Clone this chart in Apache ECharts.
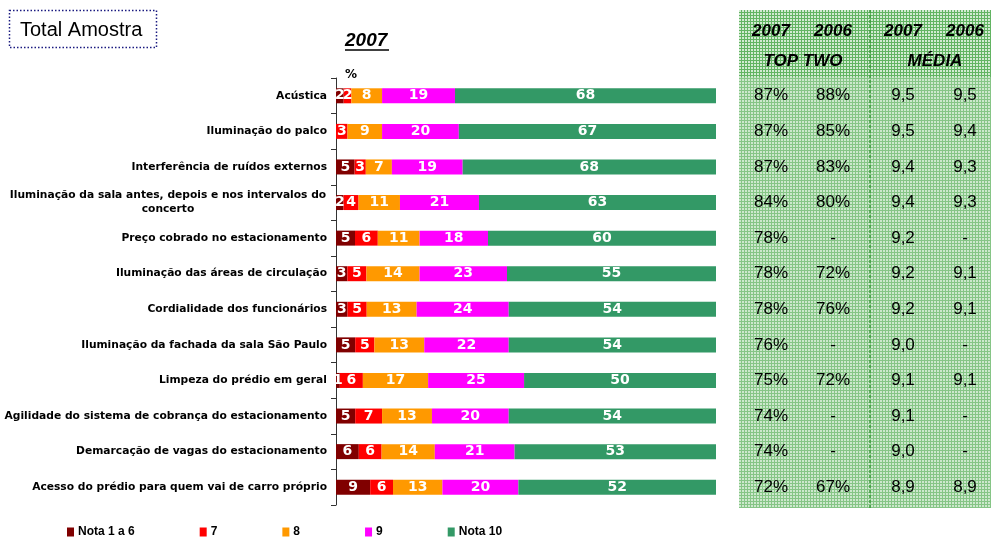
<!DOCTYPE html>
<html>
<head>
<meta charset="utf-8">
<script src="https://cdn.jsdelivr.net/npm/echarts@6/dist/echarts.min.js"></script>
<style>
  html, body { margin: 0; padding: 0; background: #fff; }
  #main { width: 991px; height: 537px; }
</style>
</head>
<body>
<div id="main"></div>
<script>
// itens avaliados (de cima para baixo)
var categories = [
  'Acústica',
  'Iluminação do palco',
  'Interferência de ruídos externos',
  'Iluminação da sala antes, depois e nos intervalos do\nconcerto',
  'Preço cobrado no estacionamento',
  'Iluminação das áreas de circulação',
  'Cordialidade dos funcionários',
  'Iluminação da fachada da sala São Paulo',
  'Limpeza do prédio em geral',
  'Agilidade do sistema de cobrança do estacionamento',
  'Demarcação de vagas do estacionamento',
  'Acesso do prédio para quem vai de carro próprio'
];
var seriesNames = ['Nota 1 a 6', '7', '8', '9', 'Nota 10'];
var nota1a6 = [2, 0, 5, 2, 5, 3, 3, 5, 1, 5, 6, 9];
var nota7   = [2, 3, 3, 4, 6, 5, 5, 5, 6, 7, 6, 6];
var nota8   = [8, 9, 7, 11, 11, 14, 13, 13, 17, 13, 14, 13];
var nota9   = [19, 20, 19, 21, 18, 23, 24, 22, 25, 20, 21, 20];
var nota10  = [68, 67, 68, 63, 60, 55, 54, 54, 50, 54, 53, 52];

// tabela da direita
var topTwo2007 = [87, 87, 87, 84, 78, 78, 78, 76, 75, 74, 74, 72];
var topTwo2006 = [88, 85, 83, 80, null, 72, 76, null, 72, null, null, 67];
var media2007 = [9.5, 9.5, 9.4, 9.4, 9.2, 9.2, 9.2, 9.0, 9.1, 9.1, 9.0, 8.9];
var media2006 = [9.5, 9.4, 9.3, 9.3, null, 9.1, 9.1, null, 9.1, null, null, 8.9];

var colors = ['#800000', '#ff0000', '#ff9900', '#ff00ff', '#339966'];
var allSeries = [nota1a6, nota7, nota8, nota9, nota10];

// barras 100% empilhadas: largura normalizada pelo total da linha
var totals = categories.map(function (c, i) {
  var s = 0;
  for (var k = 0; k < allSeries.length; k++) s += allSeries[k][i];
  return s;
});

function makePattern(size, bg, line) {
  var cv = document.createElement('canvas');
  cv.width = size; cv.height = size;
  var ctx = cv.getContext('2d');
  ctx.fillStyle = bg;
  ctx.fillRect(0, 0, size, size);
  ctx.fillStyle = line;
  ctx.fillRect(0, 0, size, 1);
  ctx.fillRect(0, 0, 1, size);
  return { image: cv, repeat: 'repeat' };
}
var bodyPattern = makePattern(3, '#cde8cd', '#86c586');
var headPattern = makePattern(3, '#d2ebd2', '#62b462');

var myChart = echarts.init(document.getElementById('main'));

var series = seriesNames.map(function (name, k) {
  return {
    name: name,
    type: 'bar',
    stack: 'total',
    barWidth: 15,
    itemStyle: { color: colors[k] },
    label: {
      show: true,
      position: 'inside',
      color: '#fff',
      fontFamily: 'DejaVu Sans',
      fontWeight: 'bold',
      fontSize: 14,
      formatter: function (p) {
        return p.data.raw > 0 ? String(p.data.raw) : '';
      }
    },
    data: allSeries[k].map(function (v, i) {
      return { value: v / totals[i] * 100, raw: v };
    })
  };
});

var option = {
  animation: false,
  textStyle: { fontFamily: 'DejaVu Sans' },
  grid: { left: 336, right: 275, top: 78, bottom: 32, containLabel: false, outerBoundsMode: 'none' },
  legend: {
    left: 67,
    top: 526,
    padding: 0,
    itemWidth: 7,
    itemHeight: 9,
    itemGap: 65,
    icon: 'rect',
    textStyle: { fontFamily: 'Liberation Sans', fontWeight: 'bold', fontSize: 12, color: '#000', padding: [0, 0, 0, -1] },
    data: seriesNames
  },
  xAxis: { type: 'value', min: 0, max: 100, show: false },
  yAxis: {
    type: 'category',
    inverse: true,
    data: categories,
    axisLine: { show: true, lineStyle: { color: '#333', width: 1 } },
    axisTick: { show: true, length: 5, lineStyle: { color: '#333' } },
    axisLabel: {
      margin: 9,
      fontFamily: 'DejaVu Sans',
      fontWeight: 'bold',
      fontSize: 10.7,
      color: '#000',
      formatter: function (v) {
        if (v.indexOf('\n') >= 0) {
          return v.split('\n').map(function (l) { return '{c|' + l + '}'; }).join('\n');
        }
        return v;
      },
      rich: {
        c: { width: 318, align: 'center', fontFamily: 'DejaVu Sans', fontWeight: 'bold', fontSize: 10.7, color: '#000', lineHeight: 14 }
      }
    }
  },
  series: series
};
myChart.setOption(option);

// tabela e textos posicionados pela escala do eixo de categorias
function fmtPct(v) { return v == null ? '-' : v + '%'; }
function fmtDec(v) { return v == null ? '-' : v.toFixed(1).replace('.', ','); }

var cols = [771, 833, 903, 965];
var tableTop = 10, headEnd = 77, tableBottom = 508, tableLeft = 739;
var graphics = [
  // caixa "Total Amostra"
  { type: 'rect', shape: { x: 9.5, y: 10.5, width: 147, height: 37 },
    style: { fill: '#fff', stroke: '#1a1a80', lineWidth: 1.5, lineDash: [1.5, 2] } },
  { type: 'text', x: 20, y: 30, style: { text: 'Total Amostra', font: '20px "Liberation Sans"', fill: '#000', textVerticalAlign: 'middle' } },
  // título
  { type: 'text', x: 345, y: 41, style: { text: '2007', font: 'italic bold 19px "Liberation Sans"', fill: '#000', textVerticalAlign: 'middle' } },
  { type: 'line', shape: { x1: 345, y1: 50, x2: 389, y2: 50 }, style: { stroke: '#000', lineWidth: 1.5 } },
  { type: 'text', x: 345, y: 75, style: { text: '%', font: 'bold 12px "DejaVu Sans"', fill: '#000', textVerticalAlign: 'middle' } },
  // fundo da tabela
  { type: 'rect', shape: { x: tableLeft, y: headEnd, width: 991 - tableLeft, height: tableBottom - headEnd }, style: { fill: bodyPattern } },
  { type: 'rect', shape: { x: tableLeft, y: tableTop, width: 991 - tableLeft, height: headEnd - tableTop }, style: { fill: headPattern } },
  { type: 'line', shape: { x1: 870, y1: tableTop, x2: 870, y2: tableBottom }, style: { stroke: '#3a9a3a', lineWidth: 1.5, lineDash: [3, 2] } }
];
var headFont = 'italic bold 17px "Liberation Sans"';
['2007', '2006', '2007', '2006'].forEach(function (t, j) {
  graphics.push({ type: 'text', x: cols[j], y: 31, style: { text: t, font: headFont, fill: '#000', textAlign: 'center', textVerticalAlign: 'middle' } });
});
graphics.push({ type: 'text', x: 803, y: 61, style: { text: 'TOP TWO', font: headFont, fill: '#000', textAlign: 'center', textVerticalAlign: 'middle' } });
graphics.push({ type: 'text', x: 935, y: 61, style: { text: 'MÉDIA', font: headFont, fill: '#000', textAlign: 'center', textVerticalAlign: 'middle' } });

var cellFont = '17px "Liberation Sans"';
categories.forEach(function (c, i) {
  var y = myChart.convertToPixel({ yAxisIndex: 0 }, i);
  var vals = [fmtPct(topTwo2007[i]), fmtPct(topTwo2006[i]), fmtDec(media2007[i]), fmtDec(media2006[i])];
  vals.forEach(function (t, j) {
    graphics.push({ type: 'text', x: cols[j], y: y, style: { text: t, font: cellFont, fill: '#000', textAlign: 'center', textVerticalAlign: 'middle' } });
  });
});
myChart.setOption({ graphic: graphics });

window.addEventListener('resize', function () {
  myChart.resize();
});
</script>
</body>
</html>
